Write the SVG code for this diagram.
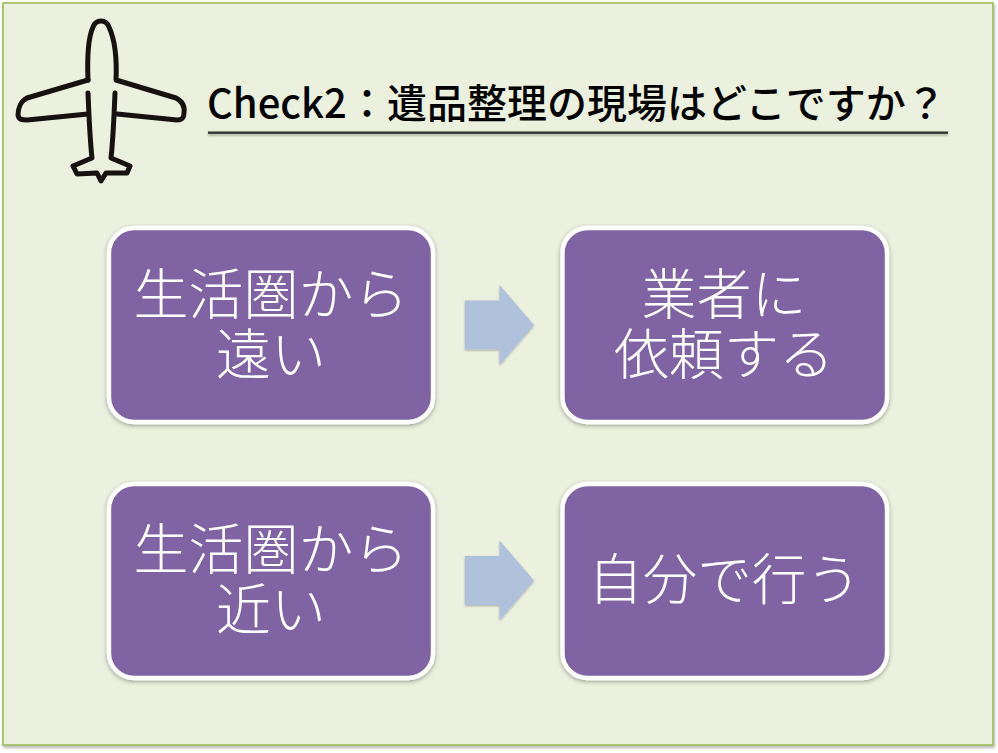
<svg xmlns="http://www.w3.org/2000/svg" width="998" height="753" viewBox="0 0 998 753">
<style>
text{font-family:"Noto Sans CJK JP","Noto Sans CJK SC",sans-serif}
.box{fill:#8064a2;stroke:#fff;stroke-width:4.4;filter:url(#sh)}
.lbl{fill:#fff;font-size:55px;font-weight:300;text-anchor:middle}
.arrow{fill:#b0c1dc;filter:url(#sh2)}
.plane{fill:none;stroke:#17120f;stroke-width:5;stroke-linejoin:round;stroke-linecap:round}
</style>
<defs>
<filter id="sh" x="-5%" y="-5%" width="110%" height="110%"><feDropShadow dx="0" dy="1.500" stdDeviation="2" flood-color="#000" flood-opacity=".35"/></filter>
<filter id="sh2" x="-10%" y="-10%" width="120%" height="120%"><feDropShadow dx="0" dy="1" stdDeviation="1" flood-color="#000" flood-opacity=".3"/></filter>
<filter id="sh3" x="-2%" y="-2%" width="104%" height="104%"><feDropShadow dx="1" dy="2" stdDeviation="1.500" flood-color="#000" flood-opacity=".3"/></filter>
<filter id="sh4" x="-1%" y="-200%" width="102%" height="500%"><feDropShadow dx="0" dy="1.500" stdDeviation="1" flood-color="#000" flood-opacity=".35"/></filter>
</defs>
<rect width="998" height="753" fill="#fff"/>
<rect id="panel" x="3" y="3" width="990" height="742" fill="#ebf1de" stroke="#9bbb59" stroke-width="1.600" filter="url(#sh3)"/>
<g id="plane" class="plane">
<path d="M88 80C87 55 88 38 93 27C96 19 106 19 109 27C115 40 117 58 116 80L176 98C182 101 185 106 184 113C184 119 181 120 177 120L117 114"/>
<path d="M88 80L27 98C21 101 18 108 18 115C19 120 22 120 27 120L88 114"/>
<path d="M88 93C89 118 90 140 92 158L73 166L77 174L97 173L101 181L106 173L127 173L130 166L111 158C113 140 114 118 115 93"/>
</g>
<g id="title">
<text y="118" font-size="40" font-weight="500" fill="#000"><tspan x="207">Check2</tspan><tspan x="347">：遺品整理の現場はどこですか？</tspan></text>
<rect x="208" y="131.500" width="740" height="2.300" fill="#30322e" filter="url(#sh4)"/>
</g>
<g id="node-far">
<rect class="box" x="109" y="228" width="324" height="194" rx="25"/>
<text class="lbl"><tspan x="271" y="314">生活圏から</tspan><tspan x="271" y="374">遠い</tspan></text>
</g>
<g id="node-vendor">
<rect class="box" x="562.500" y="228" width="324.500" height="194" rx="25"/>
<text class="lbl"><tspan x="724" y="314">業者に</tspan><tspan x="724" y="374">依頼する</tspan></text>
</g>
<g id="node-near">
<rect class="box" x="109" y="484" width="324" height="194" rx="25"/>
<text class="lbl"><tspan x="271" y="569">生活圏から</tspan><tspan x="271" y="629">近い</tspan></text>
</g>
<g id="node-self">
<rect class="box" x="562.500" y="484" width="324.500" height="194" rx="25"/>
<text class="lbl" x="724.500" y="599" font-size="54" style="font-size:54.500px">自分で行う</text>
</g>
<g id="connectors">
<path class="arrow" d="M465 300.500H499.500V285L534 325L499.500 365V349.500H465Z"/>
<path class="arrow" d="M465 556H499.500V540.500L534 580.500L499.500 620.500V605H465Z"/>
</g>
</svg>
